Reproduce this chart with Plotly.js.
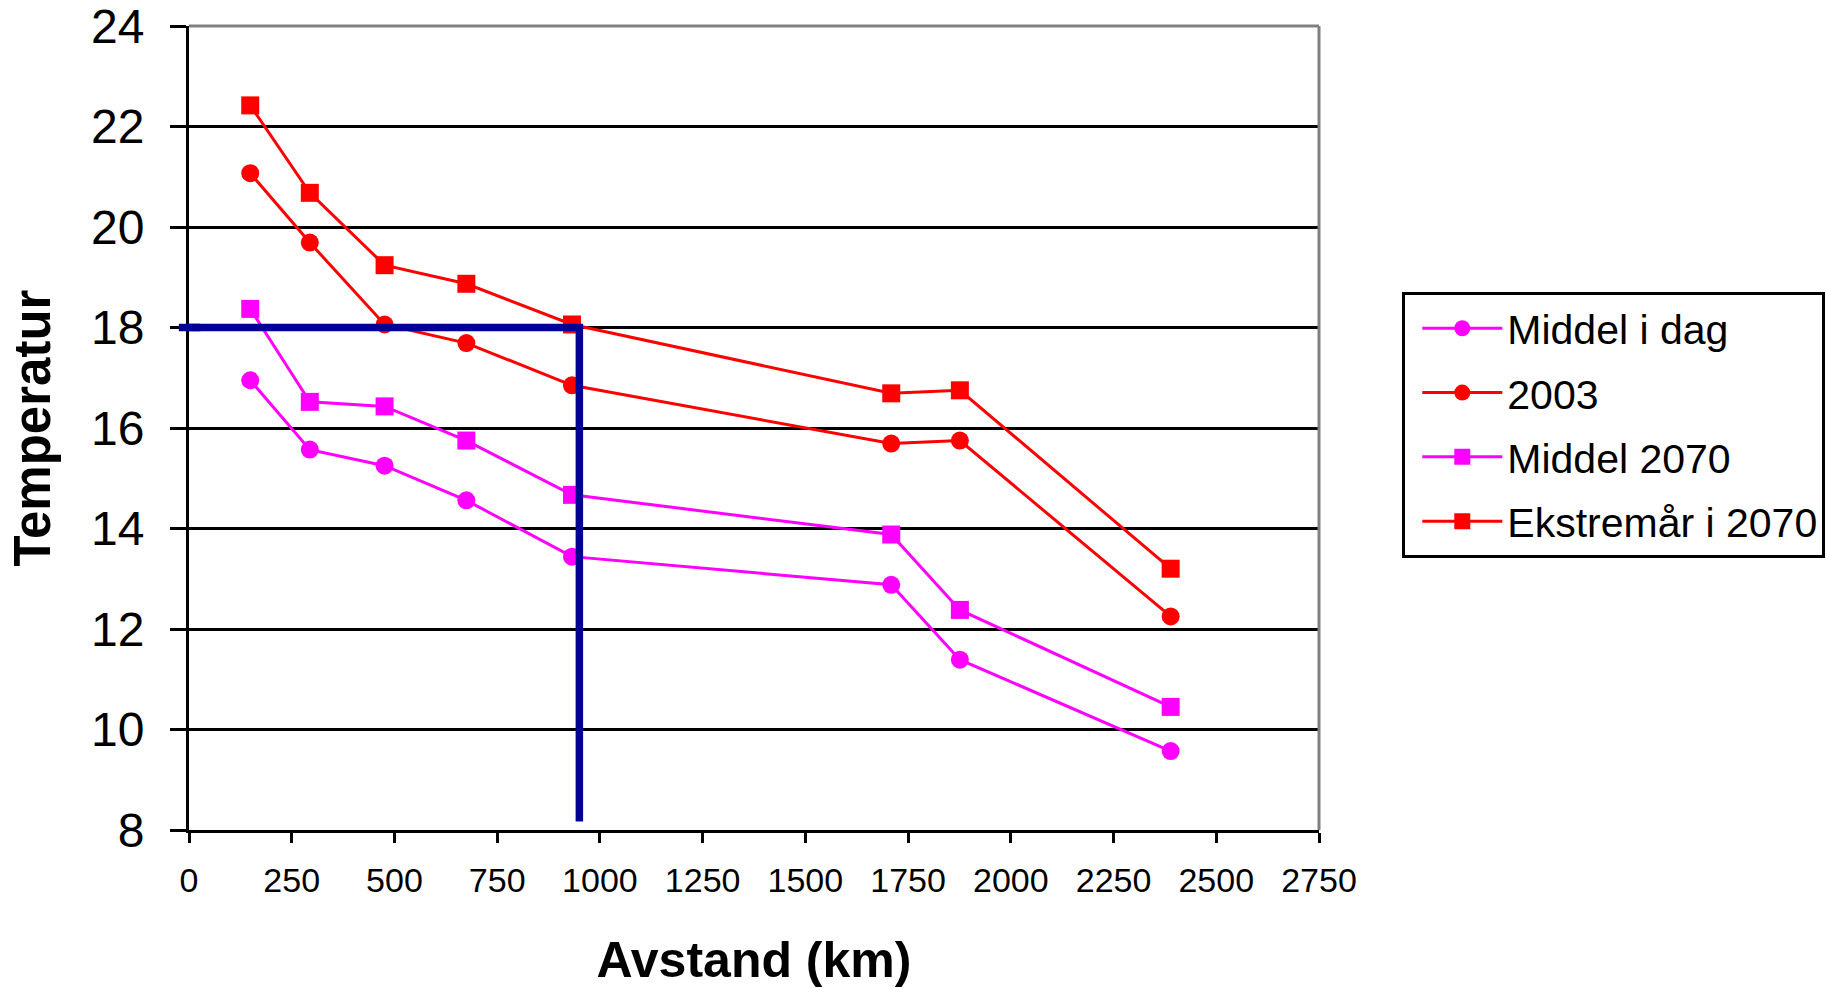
<!DOCTYPE html>
<html>
<head>
<meta charset="utf-8">
<script src="https://cdn.plot.ly/plotly-3.0.1.min.js"></script>
<style>html,body{margin:0;padding:0;background:#fff;}#chart{width:1826px;height:988px;}</style>
</head>
<body>
<div id="chart"></div>
<script>
// Distance (km) of each station
const avstand = [149, 294, 476, 675, 932, 1709, 1876, 2389];
// Temperature series
const middelIDag   = [16.95, 15.57, 15.25, 14.56, 13.44, 12.88, 11.39, 9.57];
const aar2003      = [21.07, 19.69, 18.06, 17.69, 16.85, 15.69, 15.75, 12.25];
const middel2070   = [18.37, 16.52, 16.43, 15.75, 14.67, 13.88, 12.38, 10.45];
const ekstrem2070  = [22.42, 20.68, 19.24, 18.87, 18.06, 16.69, 16.75, 13.20];
const seriesNames  = ['Middel i dag', '2003', 'Middel 2070', 'Ekstremår i 2070'];
// Reference guide (18 °C threshold reached at ~950 km)
const guideX = [0, 950, 950];
const guideY = [18, 18, 8.17];
// Axis ticks
const xTicks = [0, 250, 500, 750, 1000, 1250, 1500, 1750, 2000, 2250, 2500, 2750];
const yTicks = [8, 10, 12, 14, 16, 18, 20, 22, 24];

const FONT = 'Liberation Sans, Arial, sans-serif';
const MAG = '#FF00FF', RED = '#FF0000', NAVY = '#000096';

function series(name, y, color, symbol, group) {
  return {
    x: avstand, y: y, name: name, type: 'scatter', mode: 'lines+markers',
    legendgroup: group,
    line: {color: color, width: 3},
    marker: {color: color, symbol: symbol, size: 18, line: {width: 0}},
    cliponaxis: false
  };
}

const traces = [
  series(seriesNames[0], middelIDag, MAG, 'circle', 'a'),
  series(seriesNames[1], aar2003, RED, 'circle', 'b'),
  series(seriesNames[2], middel2070, MAG, 'square', 'c'),
  series(seriesNames[3], ekstrem2070, RED, 'square', 'd'),
  {x: guideX, y: guideY, type: 'scatter', mode: 'lines', showlegend: false,
   line: {color: NAVY, width: 7.5}, hoverinfo: 'skip'}
];

const layout = {
  width: 1826, height: 988,
  paper_bgcolor: '#fff', plot_bgcolor: '#fff',
  margin: {l: 189, r: 507, t: 26, b: 158, autoexpand: false},
  font: {family: FONT, color: '#000'},
  showlegend: true,
  legend: {
    x: 1.0737, y: 0.669, xanchor: 'left', yanchor: 'top',
    bordercolor: '#000', borderwidth: 3, bgcolor: '#fff',
    font: {family: FONT, size: 41, color: '#000'},
    tracegroupgap: 8, itemwidth: 80, indentation: 12
  },
  xaxis: {
    range: [0, 2750], tickvals: xTicks, ticktext: xTicks.map(String),
    showgrid: false, zeroline: false,
    showline: true, linecolor: '#000', linewidth: 3,
    ticks: 'outside', ticklen: 10, tickwidth: 3, tickcolor: '#000',
    ticklabelstandoff: 8, ticklabeloverflow: 'allow',
    tickfont: {family: FONT, size: 34, color: '#000'},
    title: {text: '<b>Avstand (km)</b>', font: {family: FONT, size: 50, color: '#000'}, standoff: 45}
  },
  yaxis: {
    range: [8, 24], tickvals: yTicks, ticktext: yTicks.map(String),
    showgrid: true, gridcolor: '#000', gridwidth: 3,
    zeroline: false,
    showline: true, linecolor: '#000', linewidth: 3,
    ticks: 'outside', ticklen: 16, tickwidth: 3, tickcolor: '#000',
    ticklabelstandoff: 16, ticklabeloverflow: 'allow',
    tickfont: {family: FONT, size: 48, color: '#000'},
    title: {text: '<b>Temperatur</b>', font: {family: FONT, size: 51, color: '#000'}, standoff: 25}
  },
  shapes: [
    {type: 'line', xref: 'paper', yref: 'paper', x0: 0, x1: 1, y0: 1, y1: 1, line: {color: '#808080', width: 3}, layer: 'above'},
    {type: 'line', xref: 'paper', yref: 'paper', x0: 1, x1: 1, y0: 0, y1: 1, line: {color: '#808080', width: 3}, layer: 'above'},
    // small overhang of the guide line left of the y axis
    {type: 'line', xref: 'paper', yref: 'y', x0: -0.009, x1: 0.01, y0: guideY[0], y1: guideY[1], line: {color: NAVY, width: 7.5}, layer: 'above'}
  ]
};

Plotly.newPlot('chart', traces, layout, {staticPlot: true, displayModeBar: false});
</script>
</body>
</html>
